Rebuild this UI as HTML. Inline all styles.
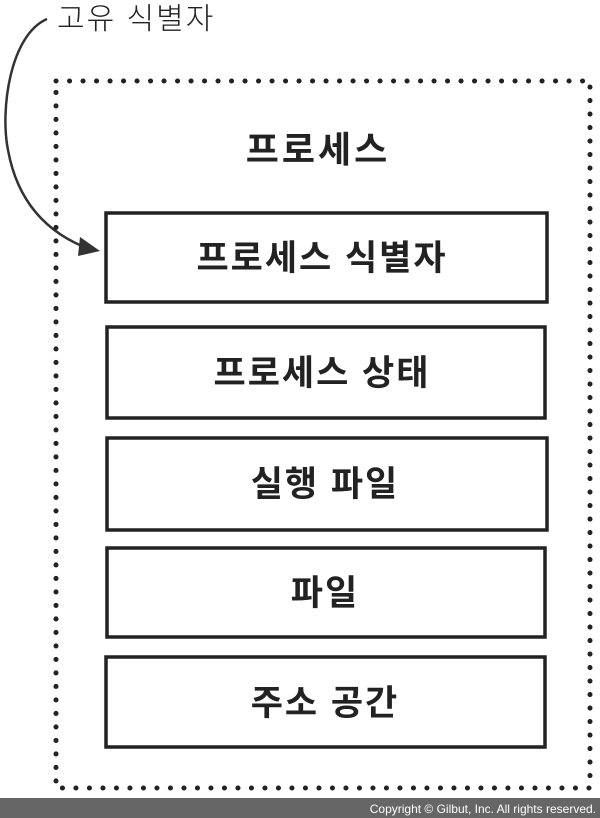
<!DOCTYPE html>
<html><head><meta charset="utf-8"><style>
body{margin:0;background:#fff;}
svg{display:block}
text{font-family:"Liberation Sans","Noto Sans CJK KR","NanumGothic",sans-serif;fill:#222}
</style></head><body>
<svg width="600" height="818" viewBox="0 0 600 818" xmlns="http://www.w3.org/2000/svg">
<rect width="600" height="818" fill="#fff"/>
<text x="57" y="29" font-size="30" font-weight="300" letter-spacing="2">고유 식별자</text>
<path d="M47 19 C10 35 0 110 8 150 C18 205 50 235 92 250" fill="none" stroke="#333" stroke-width="2.5"/>
<polygon points="100,251 80,237 78,256" fill="#333"/>
<rect x="56" y="81" width="534" height="707" fill="none" stroke="#222" stroke-width="5" stroke-dasharray="0.1 13.4" stroke-linecap="round"/>
<text x="318" y="162" font-size="36" font-weight="bold" text-anchor="middle" letter-spacing="3">프로세스</text>
<g fill="none" stroke="#222" stroke-width="3.5">
<rect x="106" y="213" width="441" height="89"/>
<rect x="107" y="327" width="438" height="91"/>
<rect x="107" y="438" width="440" height="92"/>
<rect x="107" y="548" width="438" height="89"/>
<rect x="106" y="657" width="439" height="90"/>
</g>
<g font-size="35" font-weight="bold" text-anchor="middle" letter-spacing="2">
<text x="322" y="270">프로세스 식별자</text>
<text x="322" y="385">프로세스 상태</text>
<text x="325" y="496">실행 파일</text>
<text x="325" y="605">파일</text>
<text x="325" y="715">주소 공간</text>
</g>
<rect x="0" y="798" width="600" height="20" fill="#666"/>
<text x="596" y="813" font-size="12" text-anchor="end" style="fill:#fff">Copyright © Gilbut, Inc. All rights reserved.</text>
</svg>
</body></html>
